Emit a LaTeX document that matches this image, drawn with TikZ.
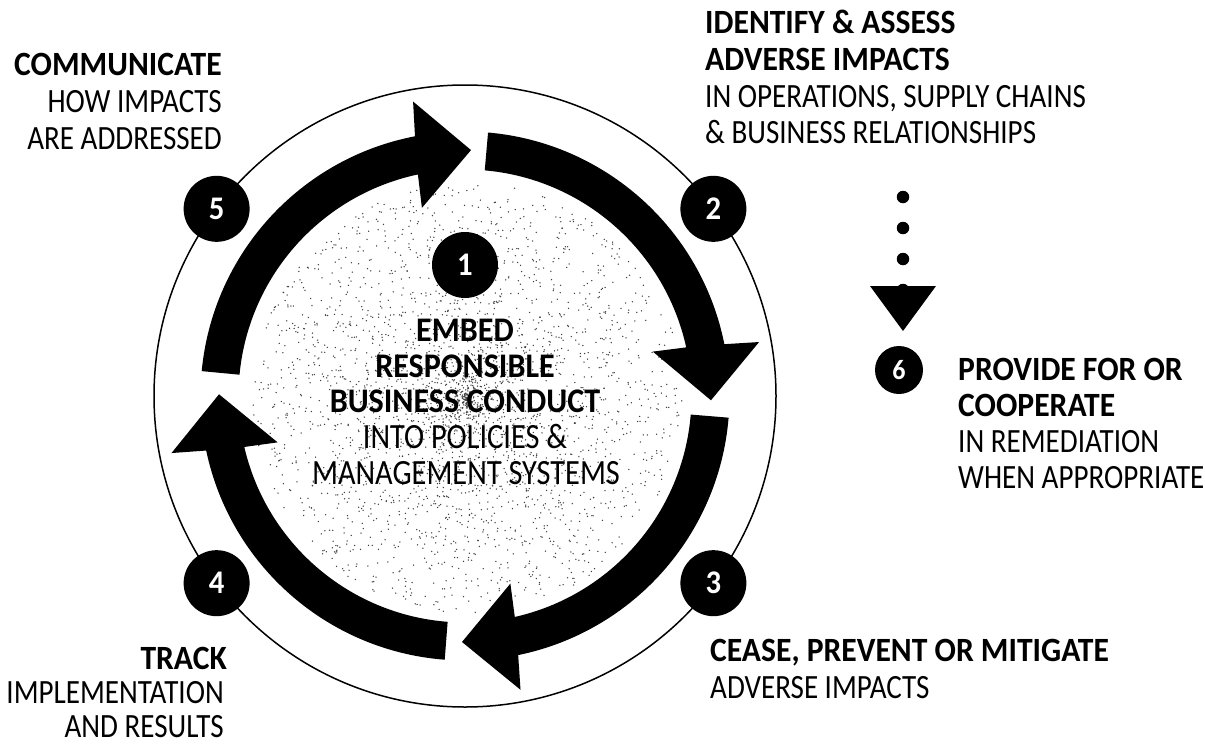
\documentclass[tikz,border=0pt]{standalone}
\usepackage{fontspec}
\setmainfont{Carlito}[FakeStretch=0.855, BoldFeatures={FakeStretch=0.93}]
\newcommand\ringarrow[1]{%
  \fill[black] ({-(#1)}:264.5)
    arc[start angle={-(#1)}, end angle={-(#1)+73.7}, radius=264.5]
    -- ({-(#1)+74.6}:299) -- ({-(#1)+86}:246) -- ({-(#1)+71.7}:193)
    -- ({-(#1)+72.6}:226.5)
    arc[start angle={-(#1)+72.6}, end angle={-(#1)}, radius=226.5] -- cycle;}
\begin{document}
\begin{tikzpicture}[x=1pt,y=-1pt,
  lbl/.style={inner sep=0pt, font=\fontsize{34}{36}\selectfont},
  lblb/.style={inner sep=0pt, font=\fontsize{34}{36}\selectfont\bfseries},
  ctr/.style={inner sep=0pt, font=\fontsize{35.5}{36}\selectfont},
  ctrb/.style={inner sep=0pt, font=\fontsize{34.5}{36}\selectfont\bfseries},
  numc/.style={circle, fill=black, minimum size=66pt, inner sep=0pt, text=white,
    font=\fontsize{33}{36}\selectfont\bfseries},
  ringline/.style={draw=black, line width=1.5pt},
  speck/.style={fill=black!75}]
\useasboundingbox (0,0) rectangle (1205,744);
% speckled centre
\begin{scope}[shift={(468,398)}]
  \pgfmathsetseed{7}
  \foreach \i in {1,...,3000}{
    \pgfmathsetmacro\ang{360*rnd}
    \pgfmathsetmacro\rad{215*pow(rnd,0.9)}
    \fill[speck] (\ang:\rad) circle[radius=0.75];
  }
\end{scope}
\begin{scope}[shift={(465,396)}]
  \draw[ringline] (0,0) circle[radius=311];
  \ringarrow{85}
  \ringarrow{-4.7}
  \ringarrow{-94.4}
  \ringarrow{174.6}
  \node[numc] (n2) at (-37:311) {2};
  \node[numc] (n5) at (-143:311) {5};
  \node[numc] (n3) at (37:311) {3};
  \node[numc] (n4) at (143:311) {4};
\end{scope}
\node[numc] (n1) at (465,265) {1};
% centre text
\node[ctrb, anchor=base] (c1) at (465,341) {EMBED};
\node[ctrb, anchor=base] (c2) at (465,377) {RESPONSIBLE};
\node[ctrb, anchor=base] (c3) at (465,412) {BUSINESS CONDUCT};
\node[ctr, anchor=base] (c4) at (465,448) {INTO POLICIES \&};
\node[ctr, anchor=base] (c5) at (466,484) {MANAGEMENT SYSTEMS};
% top left
\node[lblb, anchor=base east] (tl1) at (222,75) {COMMUNICATE};
\node[lbl, anchor=base east] (tl2) at (222,112) {HOW IMPACTS};
\node[lbl, anchor=base east] (tl3) at (222,149) {ARE ADDRESSED};
% top right
\node[lblb, anchor=base west] (tr1) at (705,34) {IDENTIFY \& ASSESS};
\node[lblb, anchor=base west] (tr2) at (705,70) {ADVERSE IMPACTS};
\node[lbl, anchor=base west] (tr3) at (705,107) {IN OPERATIONS, SUPPLY CHAINS};
\node[lbl, anchor=base west] (tr4) at (705,143) {\& BUSINESS RELATIONSHIPS};
% step 6
\coordinate (dtop) at (903,197);
\coordinate (dend) at (903,290);
\draw[line width=12.5pt, line cap=round, dash pattern=on 0pt off 31pt] (dtop) -- (dend);
\coordinate (hl) at (870,286);
\coordinate (hr) at (936,286);
\coordinate (ht) at (903,331);
\fill[black] (hl) -- (hr) -- (ht) -- cycle;
\node[numc, minimum size=48pt, font=\fontsize{28}{32}\selectfont\bfseries] (n6) at (899,370) {6};
\node[lblb, anchor=base west] (r1) at (958,380) {PROVIDE FOR OR};
\node[lblb, anchor=base west] (r2) at (958,416) {COOPERATE};
\node[lbl, anchor=base west] (r3) at (958,452) {IN REMEDIATION};
\node[lbl, anchor=base west] (r4) at (958,488) {WHEN APPROPRIATE};
% bottom right
\node[lblb, anchor=base west] (br1) at (710,661) {CEASE, PREVENT OR MITIGATE};
\node[lbl, anchor=base west] (br2) at (710,698) {ADVERSE IMPACTS};
% bottom left
\node[lblb, anchor=base east] (bl1) at (227,669) {TRACK};
\node[lbl, anchor=base east] (bl2) at (224,703) {IMPLEMENTATION};
\node[lbl, anchor=base east] (bl3) at (224,737) {AND RESULTS};
\end{tikzpicture}
\end{document}
